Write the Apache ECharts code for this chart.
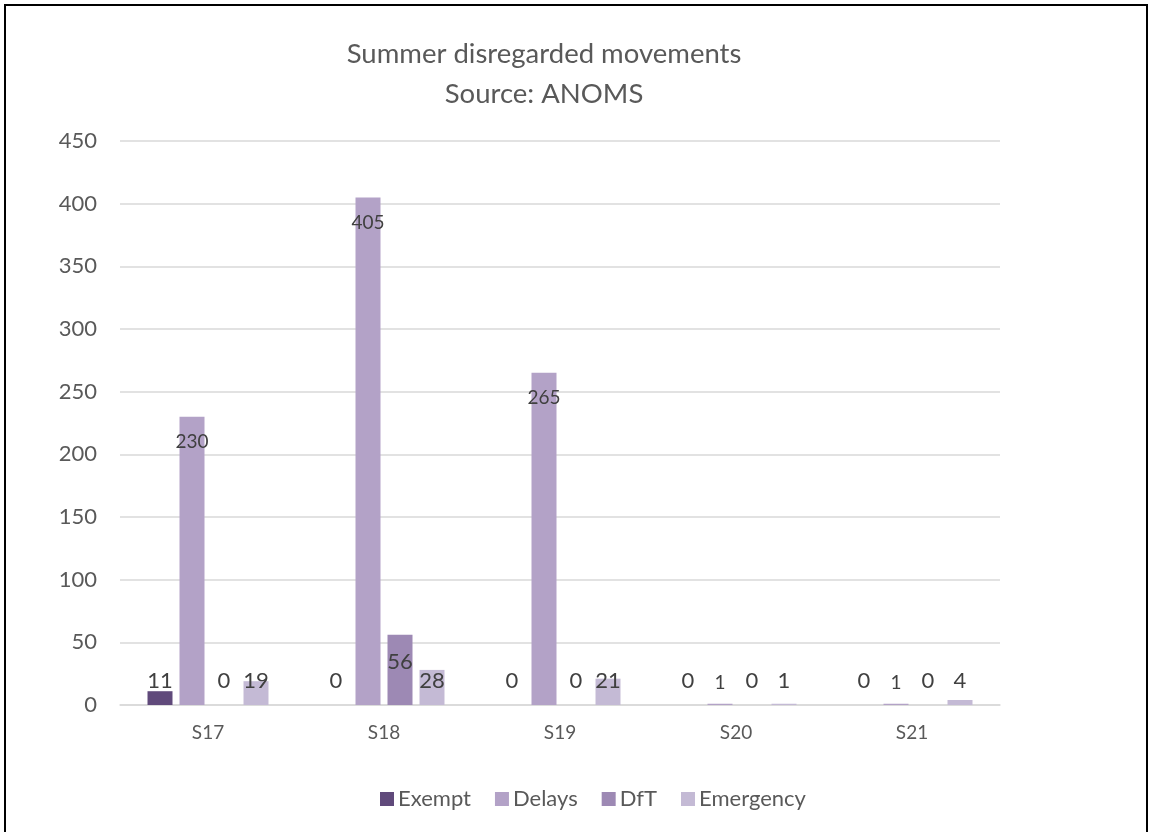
<!DOCTYPE html>
<html>
<head>
<meta charset="utf-8">
<script src="https://cdn.jsdelivr.net/npm/echarts@6/dist/echarts.min.js"></script>
<style>
html,body{margin:0;padding:0;background:#fff;}
#chart{width:1152px;height:832px;}
</style>
</head>
<body>
<div id="chart"></div>
<script>
const categories = ['S17', 'S18', 'S19', 'S20', 'S21'];
const exempt = [11, 0, 0, 0, 0];
const delays = [230, 405, 265, 1, 1];
const dft = [0, 56, 0, 0, 0];
const emergency = [19, 28, 21, 1, 4];
const yTicks = [0, 50, 100, 150, 200, 250, 300, 350, 400, 450];

const seriesNames = ['Exempt', 'Delays', 'DfT', 'Emergency'];
const seriesColors = ['#604A7B', '#B3A2C7', '#9D89B4', '#C4BAD5'];
const FONT = 'Lato';

function makeData(values) {
  return values.map(v => ({
    value: v,
    label: v > 40
      ? { position: 'insideTop', distance: 16 }
      : { position: 'insideBottom', distance: 13 }
  }));
}

function makeSeries(name, values, color, labelSize) {
  return {
    name: name,
    type: 'bar',
    barWidth: 25,
    barGap: '28%',
    itemStyle: { color: color },
    label: {
      show: true,
      color: '#404040',
      fontFamily: FONT,
      fontSize: labelSize
    },
    data: makeData(values)
  };
}

const chart = echarts.init(document.getElementById('chart'), null, { renderer: 'canvas' });
chart.setOption({
  animation: false,
  backgroundColor: '#fff',
  title: {
    text: 'Summer disregarded movements\nSource: ANOMS',
    left: 539,
    top: 29,
    textAlign: 'center',
    textStyle: {
      fontFamily: FONT,
      fontSize: 27.5,
      fontWeight: 'normal',
      color: '#595959',
      lineHeight: 40
    }
  },
  legend: {
    data: seriesNames,
    bottom: 17,
    left: 375,
    itemWidth: 14,
    itemHeight: 14,
    itemGap: 24,
    icon: 'rect',
    textStyle: { fontFamily: FONT, fontSize: 22, color: '#595959', padding: [0, 0, 0, -1] }
  },
  grid: { left: 120, right: 152, top: 141, bottom: 127, containLabel: false },
  xAxis: {
    type: 'category',
    data: categories,
    axisLine: { lineStyle: { color: '#D9D9D9', width: 1.5 } },
    axisTick: { show: false },
    axisLabel: { fontFamily: FONT, fontSize: 19, color: '#595959', margin: 18 }
  },
  yAxis: {
    type: 'value',
    min: yTicks[0],
    max: yTicks[yTicks.length - 1],
    interval: yTicks[1] - yTicks[0],
    axisLine: { show: false },
    axisTick: { show: false },
    splitLine: { lineStyle: { color: '#D9D9D9', width: 1.5 } },
    axisLabel: { fontFamily: FONT, fontSize: 22, color: '#595959', margin: 23 }
  },
  graphic: [{
    type: 'rect',
    shape: { x: 5, y: 5, width: 1142, height: 840 },
    style: { fill: 'none', stroke: '#000', lineWidth: 2 },
    silent: true
  }],
  series: [
    makeSeries(seriesNames[0], exempt, seriesColors[0], 22),
    makeSeries(seriesNames[1], delays, seriesColors[1], 19),
    makeSeries(seriesNames[2], dft, seriesColors[2], 22),
    makeSeries(seriesNames[3], emergency, seriesColors[3], 22)
  ]
});
</script>
</body>
</html>
